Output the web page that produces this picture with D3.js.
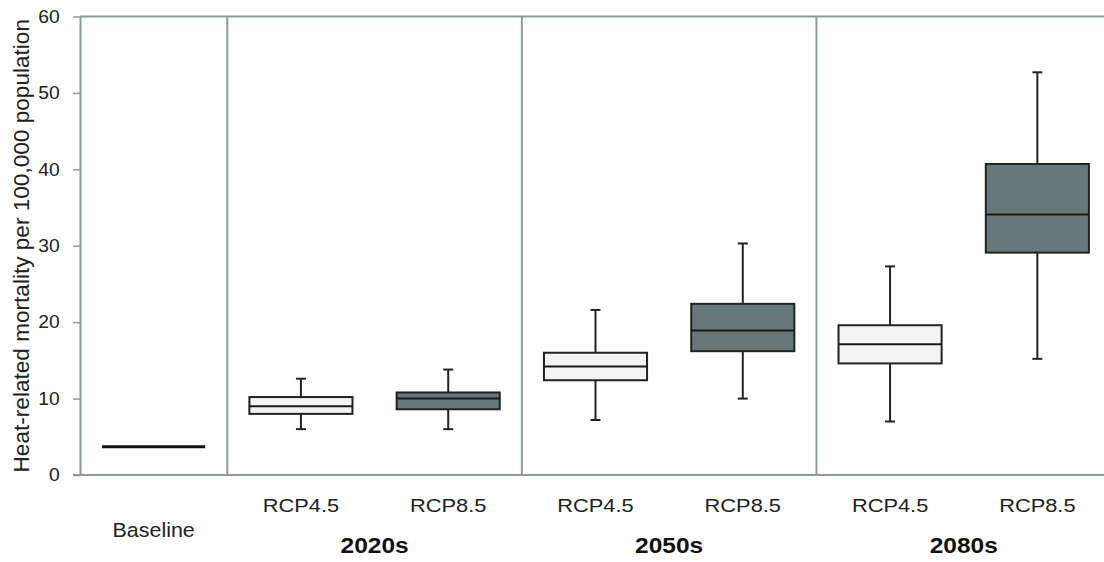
<!DOCTYPE html>
<html>
<head>
<meta charset="utf-8">
<title>Heat-related mortality</title>
<style>
  body { margin: 0; background: #fff; }
  svg { display: block; font-family: "Liberation Sans", Arial, sans-serif; }
  .tick text { fill: #222; }
</style>
</head>
<body>
<div id="chart"></div>
<script src="https://cdnjs.cloudflare.com/ajax/libs/d3/7.8.5/d3.min.js"></script>
<script>
// data
const periods = ["2020s", "2050s", "2080s"];
const scenarios = ["RCP4.5", "RCP8.5"];
const baselineValue = 3.7;
const whiskerLow  = [6.0, 6.0, 7.2, 10.0, 7.0, 15.2];
const q1          = [8.0, 8.6, 12.4, 16.2, 14.6, 29.1];
const median      = [9.0, 10.0, 14.2, 18.9, 17.1, 34.1];
const q3          = [10.2, 10.8, 16.0, 22.4, 19.6, 40.7];
const whiskerHigh = [12.6, 13.8, 21.6, 30.3, 27.3, 52.7];
const yTicks = [0, 10, 20, 30, 40, 50, 60];

const W = 1104, H = 562;
const margin = {top: 16.5, left: 80, bottom: 87, right: -7};
const axisColor = "#8c9b9b";
const fills = {"RCP4.5": "#f3f4f3", "RCP8.5": "#667877"};

const boxes = [];
periods.forEach((p, i) => scenarios.forEach((s, j) => {
  const k = i * 2 + j;
  boxes.push({period: p, scenario: s, key: p + "|" + s,
    lo: whiskerLow[k], q1: q1[k], med: median[k], q3: q3[k], hi: whiskerHigh[k]});
}));

const slots = ["Baseline"].concat(boxes.map(d => d.key));

const svg = d3.select("#chart").append("svg")
  .attr("width", W).attr("height", H);

const x = d3.scaleBand().domain(slots)
  .range([margin.left, W - margin.right]).padding(0);
const y = d3.scaleLinear().domain([0, 60])
  .range([H - margin.bottom, margin.top]);

const bw = x.bandwidth() * 0.7;
const capW = 10;

// frame: top line, bottom line, group dividers
svg.append("line")
  .attr("x1", margin.left).attr("x2", W)
  .attr("y1", y(60)).attr("y2", y(60))
  .attr("stroke", axisColor).attr("stroke-width", 2);
svg.append("line")
  .attr("x1", margin.left - 7).attr("x2", W)
  .attr("y1", y(0)).attr("y2", y(0))
  .attr("stroke", axisColor).attr("stroke-width", 2);

const dividers = ["2020s|RCP4.5", "2050s|RCP4.5", "2080s|RCP4.5"];
svg.selectAll(".divider").data(dividers).enter().append("line")
  .attr("class", "divider")
  .attr("x1", d => x(d)).attr("x2", d => x(d))
  .attr("y1", y(60)).attr("y2", y(0))
  .attr("stroke", axisColor).attr("stroke-width", 2);

// y axis
const yAxis = svg.append("g")
  .attr("transform", "translate(" + margin.left + ",0)")
  .call(d3.axisLeft(y).tickValues(yTicks).tickSize(7).tickSizeOuter(0).tickPadding(12));
yAxis.select(".domain").attr("stroke", axisColor).attr("stroke-width", 2);
yAxis.selectAll(".tick line").attr("stroke", axisColor).attr("stroke-width", 1.5);
yAxis.selectAll(".tick text").attr("font-size", 18)
  .attr("transform", "scale(1.07,1)")
  .attr("x", -19 / 1.07 * 1.07);

svg.append("text")
  .attr("transform", "translate(29," + (y(30)) + ") rotate(-90)")
  .attr("text-anchor", "middle")
  .attr("font-size", 22.6)
  .attr("fill", "#222")
  .text("Heat-related mortality per 100,000 population");

// baseline mark
svg.append("line")
  .attr("x1", x("Baseline") + (x.bandwidth() - bw) / 2)
  .attr("x2", x("Baseline") + (x.bandwidth() + bw) / 2)
  .attr("y1", y(baselineValue)).attr("y2", y(baselineValue))
  .attr("stroke", "#111").attr("stroke-width", 3);

// boxes
const g = svg.selectAll(".box").data(boxes).enter().append("g")
  .attr("class", "box")
  .attr("transform", d => "translate(" + (x(d.key) + x.bandwidth() / 2) + ",0)");

g.append("line")
  .attr("x1", 0).attr("x2", 0)
  .attr("y1", d => y(d.lo)).attr("y2", d => y(d.hi))
  .attr("stroke", "#222").attr("stroke-width", 2);
g.append("line")
  .attr("x1", -capW / 2).attr("x2", capW / 2)
  .attr("y1", d => y(d.hi)).attr("y2", d => y(d.hi))
  .attr("stroke", "#222").attr("stroke-width", 2);
g.append("line")
  .attr("x1", -capW / 2).attr("x2", capW / 2)
  .attr("y1", d => y(d.lo)).attr("y2", d => y(d.lo))
  .attr("stroke", "#222").attr("stroke-width", 2);
g.append("rect")
  .attr("x", -bw / 2).attr("width", bw)
  .attr("y", d => y(d.q3)).attr("height", d => y(d.q1) - y(d.q3))
  .attr("fill", d => fills[d.scenario])
  .attr("stroke", "#222").attr("stroke-width", 2);
g.append("line")
  .attr("x1", -bw / 2).attr("x2", bw / 2)
  .attr("y1", d => y(d.med)).attr("y2", d => y(d.med))
  .attr("stroke", "#1a1a1a").attr("stroke-width", 2);

// category labels
const labelY = 512;
boxes.forEach(d => {
  svg.append("text")
    .attr("transform", "translate(" + (x(d.key) + x.bandwidth() / 2) + "," + labelY + ") scale(1.18,1)")
    .attr("text-anchor", "middle")
    .attr("font-size", 18.5)
    .attr("fill", "#222")
    .text(d.scenario);
});
svg.append("text")
  .attr("transform", "translate(" + (x("Baseline") + x.bandwidth() / 2) + ",537) scale(1.1,1)")
  .attr("text-anchor", "middle")
  .attr("font-size", 19.5)
  .attr("fill", "#222")
  .text("Baseline");

periods.forEach(p => {
  const cx = (x(p + "|RCP4.5") + x(p + "|RCP8.5") + x.bandwidth()) / 2;
  svg.append("text")
    .attr("transform", "translate(" + cx + ",553) scale(1.14,1)")
    .attr("text-anchor", "middle")
    .attr("font-size", 21.5)
    .attr("font-weight", "bold")
    .attr("fill", "#111")
    .text(p);
});
</script>
</body>
</html>
